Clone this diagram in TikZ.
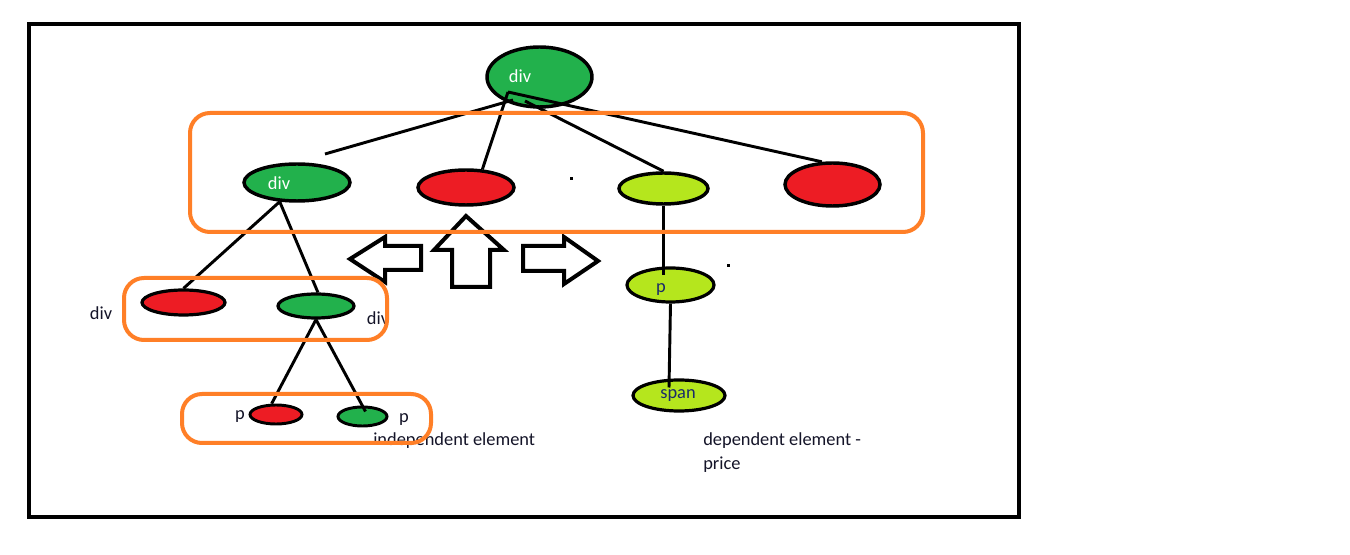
\documentclass[tikz,border=0pt]{standalone}
\usepackage{fontspec}
\setmainfont{Carlito}
\usetikzlibrary{calc,shapes.geometric}
\definecolor{pgreen}{HTML}{22B14C}
\definecolor{pred}{HTML}{ED1C24}
\definecolor{plime}{HTML}{B5E61D}
\definecolor{porange}{HTML}{FF7F27}
\definecolor{ink}{HTML}{141428}
\definecolor{inkblue}{HTML}{1A2A6A}
\tikzset{
  elem/.style={ellipse, draw=black, line width=2.6pt, inner sep=0pt},
  link/.style={draw=black, line width=2.2pt},
  group/.style={draw=porange, line width=3pt, rounded corners=15pt},
  bigarrow/.style={draw=black, fill=white, line width=3pt, line join=miter},
  lbl/.style={font=\fontsize{13.8}{16}\selectfont, text=ink, inner sep=0pt},
  inlbl/.style={font=\fontsize{13.8}{16}\selectfont, text=white, inner sep=0pt},
  bluelbl/.style={font=\fontsize{13.8}{16}\selectfont, text=inkblue, inner sep=0pt},
}
\begin{document}
\begin{tikzpicture}[x=0.75pt,y=-0.75pt]
\useasboundingbox (0,0) rectangle (1350,555);
\fill[white] (0,0) rectangle (1350,555);
% frame
\draw[black, line width=3pt] (29,24) rectangle (1019,517);

% nodes
\node[elem, fill=pgreen, minimum width=78.75pt, minimum height=45pt] (root) at (539.5,77) {};
\node[elem, fill=pgreen, minimum width=79.5pt, minimum height=27.75pt] (divA) at (297,182.5) {};
\node[elem, fill=pred, minimum width=72pt, minimum height=26.25pt] (redA) at (466,187.5) {};
\node[elem, fill=plime, minimum width=66.75pt, minimum height=23.25pt] (limeA) at (663.5,188.5) {};
\node[elem, fill=pred, minimum width=71.25pt, minimum height=32.25pt] (redD) at (832.5,184.5) {};
\node[elem, line width=2.4pt, fill=pred, minimum width=62.25pt, minimum height=18.75pt] (redB) at (183.5,302.5) {};
\node[elem, line width=2.4pt, fill=pgreen, minimum width=57pt, minimum height=18pt] (greenB) at (316,306) {};
\node[elem, line width=2.2pt, fill=pred, minimum width=39pt, minimum height=14.25pt] (redC) at (276,414.5) {};
\node[elem, line width=2.2pt, fill=pgreen, minimum width=36.75pt, minimum height=14.25pt] (greenC) at (362.5,416.5) {};
\node[elem, line width=2.4pt, fill=plime, minimum width=65.25pt, minimum height=25.5pt] (pA) at (670.5,285) {};
\node[elem, line width=2.4pt, fill=plime, minimum width=69pt, minimum height=23.25pt] (spanA) at (679,395.5) {};

% labels inside nodes
\node[inlbl] (tRoot) at (520,76) {div};
\node[inlbl] (tDivA) at (279,183) {div};
\node[bluelbl] (tP) at (661,290) {p};
\node[bluelbl] (tSpan) at (678,396) {span};

% connectors
\coordinate (hub) at (508,92);
\coordinate (hubB) at (513,100);
\coordinate (hubC) at (525,101);
\coordinate (divTopEnd) at (325,154);
\draw[link] (hubB) -- (divTopEnd);
\draw[link] (hub) -- (redA.48);
\draw[link] (hubC) -- (limeA.north);
\draw[link] (hub) -- (redD.115);
\draw[link] (divA.228) -- (redB.north);
\draw[link] (divA.228) -- (greenB.82);
\draw[link] (greenB.south) -- (redC.112);
\draw[link] (greenB.south) -- ($(greenC.center)+(3,-5)$);
\draw[link] (limeA.south) -- ($(pA.center)+(-7,-10)$);
\draw[link] (pA.south) -- ($(spanA.center)+(-10,-8)$);

% dots
\fill[black] (569.5,177.5) rectangle (572.5,180.5);
\fill[black] (726.5,264.5) rectangle (729.5,267.5);

% hollow arrows
\draw[bigarrow] (350,259) -- (385,237) -- (385,246) -- (421,246) -- (421,270) -- (385,270) -- (385,282) -- cycle;
\draw[bigarrow] (466,216) -- (504,250) -- (490,250) -- (490,287) -- (452,287) -- (452,250) -- (434,250) -- cycle;
\draw[bigarrow] (598,261) -- (564,237) -- (564,246) -- (523,246) -- (523,271) -- (564,271) -- (564,284) -- cycle;

% outer labels
\node[lbl] (tDivL) at (101,313) {div};
\node[lbl] (tDivR) at (378,318) {div};
\node[lbl] (tPL) at (240,417) {p};
\node[lbl] (tPR) at (404,420) {p};
\node[lbl, anchor=west] (tIndep) at (373,441) {independent element};
\node[lbl, anchor=west] (tDep) at (703,441) {dependent element -};
\node[lbl, anchor=west] (tPrice) at (703,465) {price};

% orange groups
\draw[group] (190,113) rectangle (923,232);
\draw[group] (124,278) rectangle (387,340);
\draw[group] (182,394) rectangle (431,443);
\end{tikzpicture}
\end{document}
